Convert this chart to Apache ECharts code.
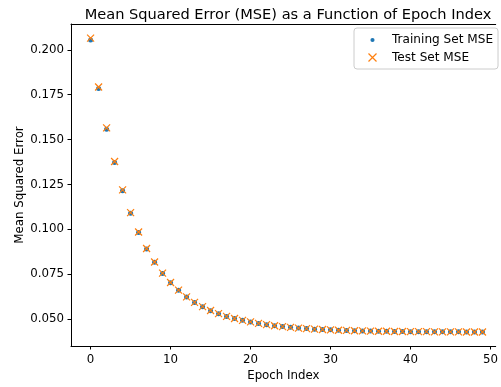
<!DOCTYPE html>
<html>
<head>
<meta charset="utf-8">
<script src="https://cdn.jsdelivr.net/npm/echarts@6/dist/echarts.min.js"></script>
<style>
  html, body { margin: 0; padding: 0; background: #fff; }
  #main { width: 501px; height: 387px; }
</style>
</head>
<body>
<div id="main"></div>
<script>
// epochs 0..49
const epochs = [0, 1, 2, 3, 4, 5, 6, 7, 8, 9, 10, 11, 12, 13, 14, 15, 16, 17, 18, 19,
  20, 21, 22, 23, 24, 25, 26, 27, 28, 29, 30, 31, 32, 33, 34, 35, 36, 37, 38, 39,
  40, 41, 42, 43, 44, 45, 46, 47, 48, 49];

const trainMSE = [0.2055, 0.1785, 0.1558, 0.1372, 0.1215, 0.1089, 0.0982, 0.0890, 0.0816, 0.0754,
  0.0702, 0.0660, 0.0623, 0.0592, 0.0568, 0.0547, 0.0529, 0.0515, 0.0503, 0.0493,
  0.0484, 0.0476, 0.0469, 0.0463, 0.0458, 0.0454, 0.0450, 0.0447, 0.0444, 0.0442,
  0.0440, 0.0438, 0.0437, 0.0435, 0.0434, 0.0433, 0.0432, 0.0432, 0.0431, 0.0431,
  0.0430, 0.0430, 0.0430, 0.0429, 0.0429, 0.0429, 0.0429, 0.0428, 0.0428, 0.0428];

const testMSE = [0.2065, 0.1793, 0.1565, 0.1378, 0.1220, 0.1093, 0.0985, 0.0893, 0.0818, 0.0756,
  0.0704, 0.0661, 0.0624, 0.0593, 0.0569, 0.0548, 0.0530, 0.0515, 0.0503, 0.0493,
  0.0484, 0.0476, 0.0469, 0.0463, 0.0458, 0.0454, 0.0450, 0.0447, 0.0444, 0.0442,
  0.0440, 0.0438, 0.0437, 0.0435, 0.0434, 0.0433, 0.0432, 0.0432, 0.0431, 0.0431,
  0.0430, 0.0430, 0.0430, 0.0429, 0.0429, 0.0429, 0.0429, 0.0428, 0.0428, 0.0428];

const xTicks = [0, 10, 20, 30, 40, 50];
const yTicks = [0.050, 0.075, 0.100, 0.125, 0.150, 0.175, 0.200];

const FONT = 'DejaVu Sans';
const FS = 11.8;
const BLUE = '#1f77b4';
const ORANGE = '#ff7f0e';
const X_PATH = 'path://M0,0L10,10M10,0L0,10';
// dot with invisible corner points so the legend keeps it small
const DOT_PATH = 'path://M0,0L0,0M10,10L10,10M5,2.4A2.6,2.6,0,1,1,4.99,2.4Z';

const chart = echarts.init(document.getElementById('main'), null, { renderer: 'canvas' });

chart.setOption({
  animation: false,
  backgroundColor: '#fff',
  title: {
    text: 'Mean Squared Error (MSE) as a Function of Epoch Index',
    left: 283,
    textAlign: 'center',
    top: 3,
    textStyle: { fontFamily: FONT, fontSize: 14.6, fontWeight: 'normal', color: '#000' }
  },
  grid: { left: 71, top: 24, right: 0, bottom: 40 },
  legend: {
    orient: 'vertical',
    left: 354,
    top: 28,
    padding: [6, 5, 5, 12],
    itemWidth: 29,
    itemHeight: 8,
    itemGap: 5,
    backgroundColor: 'rgba(255,255,255,0.8)',
    borderColor: '#cccccc',
    borderWidth: 1,
    borderRadius: 3,
    textStyle: { fontFamily: FONT, fontSize: 12.1, color: '#000' },
    data: [
      { name: 'Training Set MSE', icon: DOT_PATH, itemStyle: { color: BLUE, borderWidth: 0 } },
      { name: 'Test Set MSE', icon: X_PATH, itemStyle: { color: 'none', borderColor: ORANGE, borderWidth: 1.2 } }
    ]
  },
  xAxis: [
    {
      type: 'value',
      min: -2.45,
      max: 50.65,
      name: 'Epoch Index',
      nameLocation: 'middle',
      nameGap: 24,
      nameMoveOverlap: false,
      nameTextStyle: { fontFamily: FONT, fontSize: FS, color: '#000' },
      axisLine: { show: true, onZero: false, lineStyle: { color: '#000', width: 1 } },
      axisTick: { show: true, length: 3.5, lineStyle: { color: '#000' }, customValues: xTicks },
      axisLabel: { fontFamily: FONT, fontSize: FS, color: '#000', margin: 8, customValues: xTicks },
      splitLine: { show: false }
    },
    {
      // top spine only
      type: 'value',
      position: 'top',
      min: -2.45,
      max: 50.65,
      axisLine: { show: true, onZero: false, lineStyle: { color: '#000', width: 1 } },
      axisTick: { show: false },
      axisLabel: { show: false },
      splitLine: { show: false }
    }
  ],
  yAxis: {
    type: 'value',
    min: 0.035,
    max: 0.2144,
    name: 'Mean Squared Error',
    nameLocation: 'middle',
    nameGap: 45,
    nameMoveOverlap: false,
    nameTextStyle: { fontFamily: FONT, fontSize: FS, color: '#000' },
    axisLine: { show: true, onZero: false, lineStyle: { color: '#000', width: 1 } },
    axisTick: { show: true, length: 3.5, lineStyle: { color: '#000' }, customValues: yTicks },
    axisLabel: {
      fontFamily: FONT, fontSize: FS, color: '#000', margin: 7, customValues: yTicks,
      formatter: v => v.toFixed(3)
    },
    splitLine: { show: false }
  },
  series: [
    {
      name: 'Training Set MSE',
      type: 'scatter',
      symbol: 'circle',
      symbolSize: 5,
      itemStyle: { color: BLUE, opacity: 1 },
      data: epochs.map((e, i) => [e, trainMSE[i]])
    },
    {
      name: 'Test Set MSE',
      type: 'scatter',
      symbol: X_PATH,
      symbolSize: 7,
      itemStyle: { color: 'none', borderColor: ORANGE, borderWidth: 1.2, opacity: 1 },
      data: epochs.map((e, i) => [e, testMSE[i]])
    }
  ]
});
</script>
</body>
</html>
